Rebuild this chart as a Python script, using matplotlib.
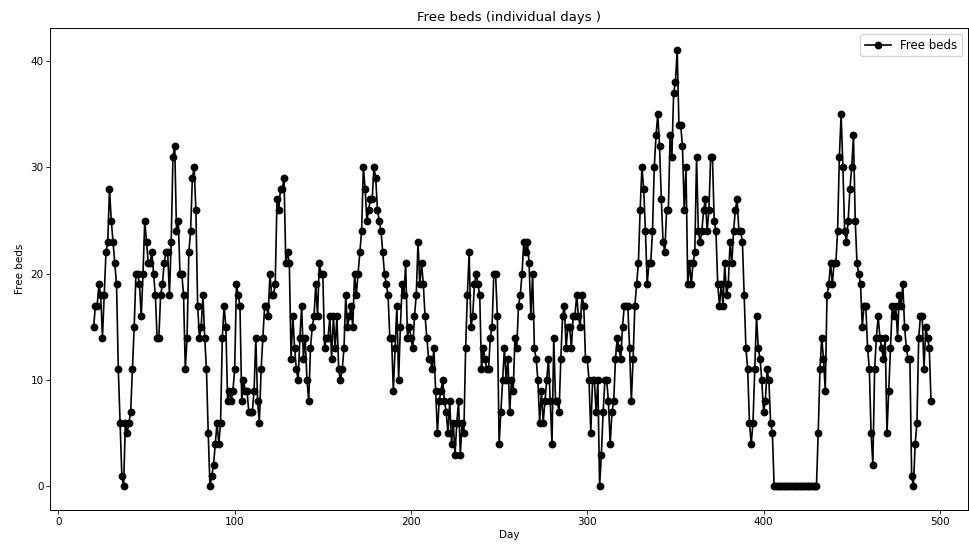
import numpy as np
import matplotlib
matplotlib.use("Agg")
import matplotlib.pyplot as plt

# free beds per day (day 20 .. 495)
first_day = 20
beds_a = [15, 17, 17, 19, 18, 14, 18, 22, 23, 28, 25, 23, 21, 19, 11, 6, 1, 0, 6, 5,
          6, 7, 11, 15, 20, 20, 19, 16, 20, 25, 23, 21, 21, 22, 20, 18, 14]
beds_b = [14, 18, 19, 21, 22, 22, 18, 23, 31, 32, 24, 25, 20, 20, 18, 11, 14, 22, 24, 29,
          30, 26, 17, 14, 15, 18, 14, 11, 5, 0, 1, 2, 4, 6, 4, 6, 14, 17, 15, 8]
beds_c = [9, 8, 9, 11, 19, 18, 17, 8, 10, 9, 9, 7, 7, 7, 9, 14, 8, 6, 11, 14,
          17, 17, 16, 20, 18, 18, 19, 27, 26, 28, 28, 29, 21, 22, 21, 12, 16, 13, 11, 10]
beds_d = [14, 17, 12, 14, 10, 8, 13, 15, 16, 19, 16, 21, 20, 20, 13, 14, 14, 16, 12, 16,
          13, 16, 11, 10, 11, 13, 18, 15, 16, 17, 15, 20, 18, 20, 22, 24]
beds_e = [30, 28, 25, 26, 27, 27, 30, 29, 26, 25, 24, 22, 20, 19, 18, 14, 14, 9, 13, 17,
          10, 15, 19, 18, 21, 14, 15, 14, 13, 16, 18, 23, 19, 21, 19, 16, 14, 12, 12, 11,
          13, 9, 5]
beds_f = [8, 9, 10, 8, 7, 5, 8, 4, 6, 3, 6, 8, 3, 6, 5, 13, 18, 22, 15, 16,
          19, 20, 19, 18, 11, 13, 12, 11, 11, 14, 15, 20, 20, 16, 4, 7, 10, 13]
beds_g = [10, 12, 7, 10, 9, 14, 13, 17, 18, 20, 23, 22, 23, 21, 16, 20, 13, 12, 10, 6,
          9, 6, 8, 10, 12, 8, 4, 14, 8, 8, 7, 12, 16, 17, 13, 15, 15, 13, 16, 16, 18]
beds_h = [16, 15, 18, 17, 12, 12, 10, 5, 10, 10, 7, 10, 0, 3, 7, 10, 10, 8, 4, 7,
          8, 12, 14, 13, 12, 15, 17, 17, 17, 13, 8, 12, 17, 19, 21, 26]
beds_i = [30, 28, 24, 19, 21, 21, 24, 30, 33, 35, 32, 27, 23, 22, 26, 26, 33, 31, 37, 38,
          41, 34, 34, 32, 26, 30, 19, 21, 19, 21, 22, 31, 24, 23, 24, 26, 27, 24, 26, 31,
          31, 25, 24, 19, 17]
beds_j = [19, 17, 21, 18, 19, 23, 21, 24, 26, 27, 24, 24, 23, 18, 13, 11, 6, 4, 6, 11,
          16, 13, 12, 10, 7, 8, 11, 10, 6, 5]
beds_k = [0, 0, 0, 0, 0, 0, 0, 0, 0, 0, 0, 0, 0, 0, 0, 0, 0, 0, 0, 0, 0, 0, 0, 0, 0]
beds_l = [5, 11, 14, 12, 9, 18, 19, 21, 19, 21, 21, 24, 31, 35, 30, 24, 23, 25, 28, 30,
          33, 25, 21]
beds_m = [20, 19, 15, 17, 17, 13, 11, 5, 2, 11, 14, 16, 14, 13, 12, 14, 5, 9, 13, 17,
          16, 17, 14, 18, 17, 19, 15, 13, 12, 12, 1, 0, 4, 6, 14, 16, 16, 11, 15, 14,
          13, 8]

free_beds = (beds_a + beds_b + beds_c + beds_d + beds_e + beds_f + beds_g
             + beds_h + beds_i + beds_j + beds_k + beds_l + beds_m)
days = np.arange(first_day, first_day + len(free_beds))


def main():
    fig = plt.figure(figsize=(9.7, 5.5), dpi=100)
    ax = fig.add_axes([0.052, 0.073, 0.946, 0.876])

    ax.plot(days, free_beds, color='black', marker='o', markersize=4.6,
            linewidth=1.2, label='Free beds')

    ax.set_xlim(-4.5, 516)
    ax.set_ylim(-2.2, 43.1)
    ax.set_title('Free beds (individual days )', fontsize=9.5, pad=5)
    ax.set_xlabel('Day', fontsize=7.5, labelpad=2)
    ax.set_ylabel('Free beds', fontsize=7.5, labelpad=4)
    ax.tick_params(labelsize=7.5, length=3, width=0.6, pad=2)
    ax.set_xticks([0, 100, 200, 300, 400, 500])
    ax.set_yticks([0, 10, 20, 30, 40])
    for s in ax.spines.values():
        s.set_linewidth(0.7)
    ax.legend(loc='upper right', fontsize=8.5, handlelength=2.2,
              borderpad=0.4, fancybox=True, framealpha=0.8)

    fig.savefig('out.png', dpi=100)


if __name__ == '__main__':
    main()
